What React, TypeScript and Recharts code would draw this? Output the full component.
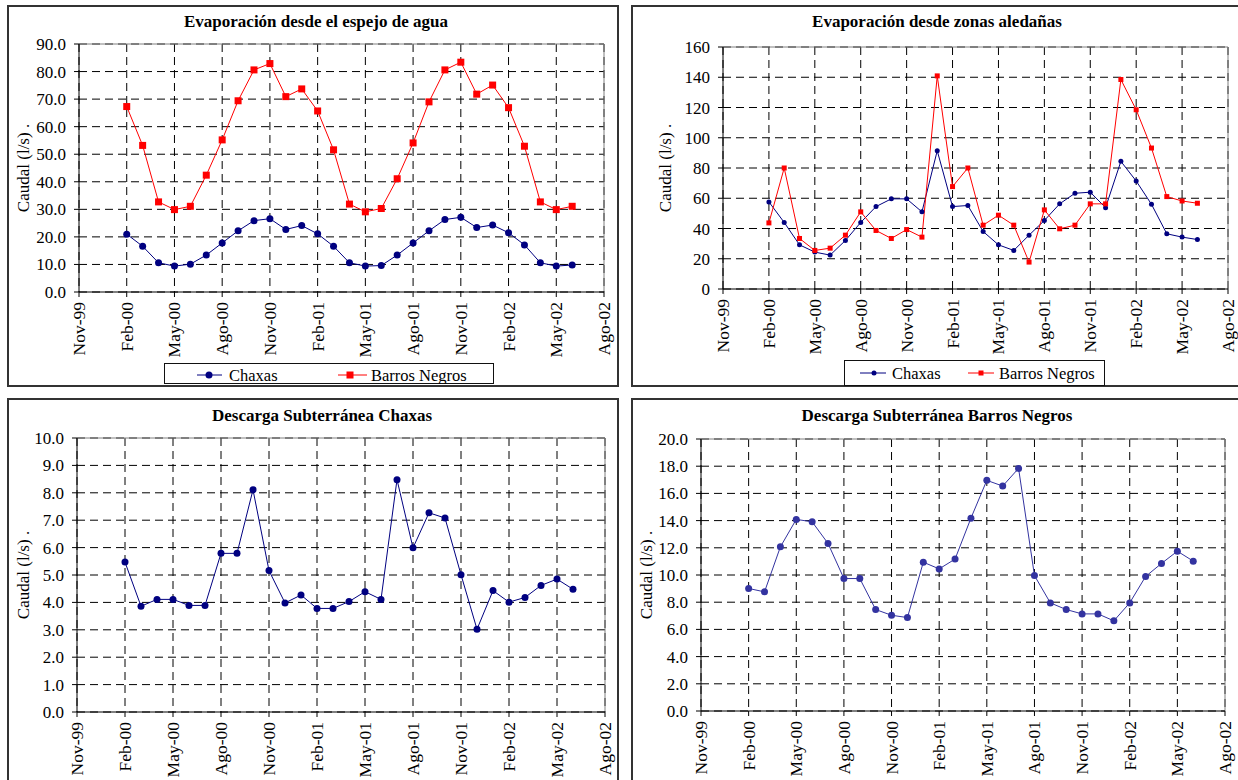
import React from 'react';
import { LineChart, Line, XAxis, YAxis, CartesianGrid, ReferenceLine, Legend } from 'recharts';

const FONT = '"Liberation Serif", "Times New Roman", serif';

// Monthly categories (Feb-00 .. Jun-02)
const months = [
  'Feb-00', 'Mar-00', 'Abr-00', 'May-00', 'Jun-00', 'Jul-00', 'Ago-00', 'Sep-00', 'Oct-00', 'Nov-00', 'Dic-00',
  'Ene-01', 'Feb-01', 'Mar-01', 'Abr-01', 'May-01', 'Jun-01', 'Jul-01', 'Ago-01', 'Sep-01', 'Oct-01', 'Nov-01', 'Dic-01',
  'Ene-02', 'Feb-02', 'Mar-02', 'Abr-02', 'May-02', 'Jun-02',
];

// X axis ticks (month offset from Feb-00) and labels
const xTickValues = [-3, 0, 3, 6, 9, 12, 15, 18, 21, 24, 27, 30];
const xTickLabels = ['Nov-99', 'Feb-00', 'May-00', 'Ago-00', 'Nov-00', 'Feb-01', 'May-01', 'Ago-01', 'Nov-01', 'Feb-02', 'May-02', 'Ago-02'];

// Evaporación desde el espejo de agua
const espejoChaxas = [21.0, 16.6, 10.6, 9.4, 10.1, 13.4, 17.8, 22.2, 25.9, 26.6, 22.7, 24.1, 21.1, 16.6, 10.6, 9.4, 9.6, 13.4, 17.8, 22.2, 26.3, 27.1, 23.4, 24.3, 21.5, 17.1, 10.6, 9.4, 9.8];
const espejoBarros = [67.3, 53.2, 32.7, 29.9, 31.1, 42.4, 55.2, 69.4, 80.6, 82.9, 70.9, 73.7, 65.7, 51.6, 31.9, 29.1, 30.3, 41.1, 54.1, 69.0, 80.6, 83.4, 71.8, 75.1, 66.9, 52.9, 32.7, 29.9, 31.1];

// Evaporación desde zonas aledañas
const aledChaxas = [57.6, 44.0, 29.2, 24.4, 22.4, 32.1, 44.0, 54.5, 59.6, 59.6, 51.0, 91.4, 54.5, 55.2, 38.0, 29.2, 25.5, 35.6, 45.3, 56.3, 63.3, 64.0, 53.8, 84.4, 71.4, 56.0, 36.5, 34.3, 32.7];
const aledBarros = [43.7, 80.0, 33.4, 25.5, 27.0, 35.6, 51.0, 38.7, 33.4, 39.3, 34.3, 140.9, 67.7, 80.0, 42.2, 48.8, 42.2, 17.8, 52.3, 39.8, 42.2, 56.3, 56.3, 138.5, 118.5, 93.2, 61.1, 58.2, 56.7];

// Descarga subterránea
const subChaxas = [5.47, 3.86, 4.11, 4.11, 3.89, 3.89, 5.79, 5.79, 8.11, 5.16, 3.98, 4.27, 3.78, 3.78, 4.03, 4.39, 4.11, 8.48, 5.99, 7.27, 7.08, 5.01, 3.02, 4.43, 4.01, 4.18, 4.62, 4.85, 4.48];
const subBarros = [9.01, 8.76, 12.07, 14.09, 13.91, 12.32, 9.74, 9.74, 7.46, 7.04, 6.87, 10.94, 10.45, 11.17, 14.18, 16.96, 16.54, 17.84, 9.96, 7.95, 7.46, 7.14, 7.14, 6.63, 7.95, 9.89, 10.85, 11.75, 11.02];

const ticks90 = [0, 10, 20, 30, 40, 50, 60, 70, 80, 90];
const ticks160 = [0, 20, 40, 60, 80, 100, 120, 140, 160];
const ticks10 = [0, 1, 2, 3, 4, 5, 6, 7, 8, 9, 10];
const ticks20 = [0, 2, 4, 6, 8, 10, 12, 14, 16, 18, 20];

const NAVY = '#000080';
const RED = '#ff0000';
const BLUE2 = '#3333a0';

type Series = { name: string; values: number[]; color: string; marker: 'circle' | 'square'; size: number };
type LegendCfg = {
  left: number; top: number; width: number; height: number; textY: number; lineY: number;
  items: { x1: number; x2: number; mx: number; tx: number }[];
};
type Panel = {
  title: string; left: number; top: number; width: number; height: number;
  plotLeft: number; plotTop: number; plotRight: number; plotBottom: number;
  yMax: number; yTicks: number[]; yDec: number; yLabelX: number;
  titleY: number; titleX: number;
  series: Series[]; legend?: LegendCfg;
};

const XTick = (props: any) => {
  const { x, y, payload } = props;
  const i = xTickValues.indexOf(payload.value);
  return (
    <g transform={`translate(${x},${y})`}>
      <text transform="rotate(-90)" x={-5} y={0} textAnchor="end" dominantBaseline="central"
        fontFamily={FONT} fontSize={17.5} fill="#000">{xTickLabels[i]}</text>
    </g>
  );
};

const makeDot = (s: Series) => (p: any) => {
  if (p.cx == null || p.cy == null) return <g key={`e-${p.index}`} />;
  if (s.marker === 'square') {
    return <rect key={`d-${p.index}`} x={p.cx - s.size / 2} y={p.cy - s.size / 2} width={s.size} height={s.size} fill={s.color} />;
  }
  return <circle key={`d-${p.index}`} cx={p.cx} cy={p.cy} r={s.size / 2} fill={s.color} />;
};

function ChartPanel({ cfg }: { cfg: Panel }) {
  const data = months.map((_, i) => {
    const row: any = { m: i, label: months[i] };
    cfg.series.forEach((s, k) => { row['s' + k] = s.values[i]; });
    return row;
  });
  const yAxisW = cfg.plotLeft - cfg.left;
  const mTop = cfg.plotTop - cfg.top;
  const mRight = cfg.left + cfg.width - cfg.plotRight;
  const xAxisH = cfg.top + cfg.height - cfg.plotBottom;
  const plotCenterY = (cfg.plotTop + cfg.plotBottom) / 2 - cfg.top;
  const lg = cfg.legend;

  const legendContent = () => lg ? (
    <svg width={lg.width} height={lg.height} style={{ display: 'block' }}>
      <rect x={0.5} y={0.5} width={lg.width - 1} height={lg.height - 1} fill="#fff" stroke="#111" strokeWidth={1} />
      {cfg.series.map((s, k) => {
        const it = lg.items[k];
        return (
          <g key={s.name}>
            <line x1={it.x1} x2={it.x2} y1={lg.lineY} y2={lg.lineY} stroke={s.color} strokeWidth={1} />
            {s.marker === 'square'
              ? <rect x={it.mx - s.size / 2} y={lg.lineY - s.size / 2} width={s.size} height={s.size} fill={s.color} />
              : <circle cx={it.mx} cy={lg.lineY} r={s.size / 2} fill={s.color} />}
            <text x={it.tx} y={lg.textY} fontFamily={FONT} fontSize={16.5} fill="#000">{s.name}</text>
          </g>
        );
      })}
    </svg>
  ) : null;

  return (
    <>
      <div style={{
        position: 'absolute', left: cfg.left, top: cfg.top, width: cfg.width, height: cfg.height,
        border: '2px solid #333', boxSizing: 'border-box', background: '#fff',
      }} />
      <div style={{
        position: 'absolute', left: cfg.titleX - 250, top: cfg.titleY - 10, width: 500, height: 20,
        lineHeight: '20px', textAlign: 'center', fontFamily: FONT, fontWeight: 'bold', fontSize: 17, color: '#000',
      }}>{cfg.title}</div>
      <div style={{ position: 'absolute', left: cfg.left, top: cfg.top }}>
        <LineChart width={cfg.width} height={cfg.height} data={data}
          margin={{ top: mTop, right: mRight, left: 0, bottom: 0 }}>
          <CartesianGrid stroke="#000" strokeDasharray="8 5" strokeWidth={1} />
          <ReferenceLine y={cfg.yMax} stroke="#808080" strokeWidth={1} />
          <ReferenceLine x={30} stroke="#808080" strokeWidth={1} />
          <XAxis type="number" dataKey="m" domain={[-3, 30]} ticks={xTickValues} interval={0}
            height={xAxisH} tickSize={5} tickMargin={0} stroke="#000"
            axisLine={{ stroke: '#000' }} tickLine={{ stroke: '#000' }} tick={<XTick />} />
          <YAxis type="number" domain={[0, cfg.yMax]} ticks={cfg.yTicks} interval={0}
            width={yAxisW} tickSize={5} tickMargin={8} stroke="#000"
            axisLine={{ stroke: '#000' }} tickLine={{ stroke: '#000' }}
            tick={{ fill: '#000', fontSize: 17, fontFamily: FONT }}
            tickFormatter={(v: number) => v.toFixed(cfg.yDec)}
            label={() => (
              <text x={cfg.yLabelX} y={plotCenterY} transform={`rotate(-90, ${cfg.yLabelX}, ${plotCenterY})`}
                textAnchor="middle" dominantBaseline="central" fontFamily={FONT} fontSize={17} fill="#000">
                Caudal (l/s) .
              </text>
            )} />
          {cfg.series.map((s, k) => (
            <Line key={s.name} name={s.name} type="linear" dataKey={'s' + k} stroke={s.color} strokeWidth={1}
              dot={makeDot(s)} activeDot={false} isAnimationActive={false} />
          ))}
          {lg && (
            <Legend layout="vertical" align="center" verticalAlign="middle" content={legendContent}
              wrapperStyle={{ left: lg.left, top: lg.top, width: lg.width, height: lg.height, margin: 0, padding: 0 }} />
          )}
        </LineChart>
      </div>
    </>
  );
}

const panels: Panel[] = [
  {
    title: 'Evaporación desde el espejo de agua', left: 7, top: 5, width: 612, height: 382,
    plotLeft: 79, plotTop: 44, plotRight: 604, plotBottom: 292, yMax: 90, yTicks: ticks90, yDec: 1, yLabelX: 16,
    titleX: 316, titleY: 22,
    series: [
      { name: 'Chaxas', values: espejoChaxas, color: NAVY, marker: 'circle', size: 7 },
      { name: 'Barros Negros', values: espejoBarros, color: RED, marker: 'square', size: 7 },
    ],
    legend: {
      left: 157, top: 358, width: 330, height: 21, textY: 18, lineY: 12,
      items: [{ x1: 33, x2: 58, mx: 45, tx: 65 }, { x1: 174, x2: 203, mx: 186, tx: 207 }],
    },
  },
  {
    title: 'Evaporación desde zonas aledañas', left: 631, top: 5, width: 620, height: 382,
    plotLeft: 723, plotTop: 47, plotRight: 1228, plotBottom: 289, yMax: 160, yTicks: ticks160, yDec: 0, yLabelX: 34,
    titleX: 937, titleY: 22,
    series: [
      { name: 'Chaxas', values: aledChaxas, color: NAVY, marker: 'circle', size: 5 },
      { name: 'Barros Negros', values: aledBarros, color: RED, marker: 'square', size: 5 },
    ],
    legend: {
      left: 213, top: 355, width: 261, height: 26, textY: 19, lineY: 13,
      items: [{ x1: 16, x2: 42, mx: 30, tx: 48 }, { x1: 124, x2: 150, mx: 137, tx: 155 }],
    },
  },
  {
    title: 'Descarga Subterránea Chaxas', left: 7, top: 398, width: 612, height: 400,
    plotLeft: 77, plotTop: 438, plotRight: 605, plotBottom: 712, yMax: 10, yTicks: ticks10, yDec: 1, yLabelX: 16,
    titleX: 322, titleY: 416,
    series: [{ name: 'Chaxas', values: subChaxas, color: NAVY, marker: 'circle', size: 7 }],
  },
  {
    title: 'Descarga Subterránea Barros Negros', left: 631, top: 398, width: 620, height: 400,
    plotLeft: 701, plotTop: 439, plotRight: 1225, plotBottom: 711, yMax: 20, yTicks: ticks20, yDec: 1, yLabelX: 15,
    titleX: 937, titleY: 416,
    series: [{ name: 'Barros Negros', values: subBarros, color: BLUE2, marker: 'circle', size: 7 }],
  },
];

export default function App() {
  return (
    <div style={{ position: 'absolute', left: 0, top: 0, width: 1238, height: 780, overflow: 'hidden', background: '#fff' }}>
      {panels.map((p) => <ChartPanel key={p.title} cfg={p} />)}
    </div>
  );
}
